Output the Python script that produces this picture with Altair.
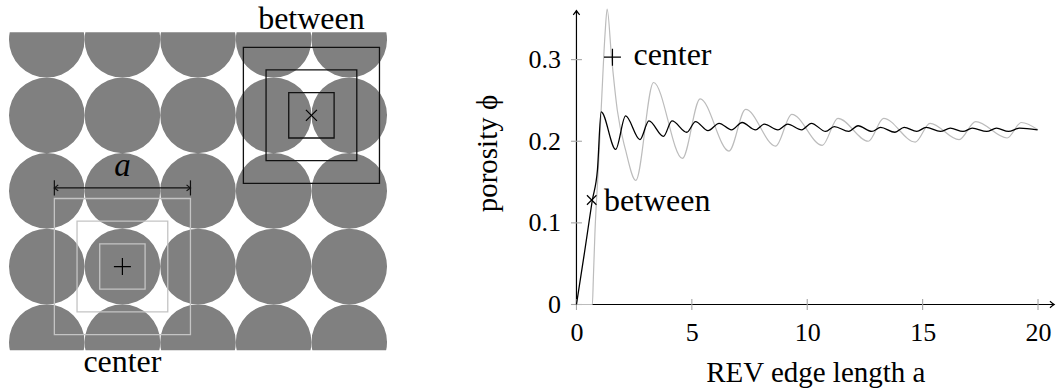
import altair as alt
import pandas as pd

# ---------------- data ----------------
circle_cols = [0, 1, 2, 3, 4]
circle_rows = [0, 1, 2, 3, 4]
rev_edges = [0.6, 1.2, 1.8]
center_xy = [1.0, 3.0]
between_xy = [3.5, 1.0]

gray_a = [0.0, 0.69, 0.73, 0.80, 0.95, 1.09, 1.24, 1.33, 1.52, 1.77, 2.13, 2.57,
          3.34, 4.59, 5.36, 6.61, 7.33, 8.63, 9.33, 10.65, 11.33, 12.65, 13.31,
          14.68, 15.32, 16.58, 17.30, 18.66, 19.28, 20.0]
gray_phi = [0.0, 0.0, 0.030, 0.087, 0.168, 0.250, 0.332, 0.362, 0.303, 0.238, 0.189, 0.152,
            0.272, 0.179, 0.252, 0.188, 0.239, 0.194, 0.233, 0.195, 0.228, 0.200, 0.228,
            0.199, 0.222, 0.202, 0.224, 0.204, 0.223, 0.214]

black_a = [0.0, 0.35, 0.69, 0.91, 1.07, 1.70, 2.13, 2.75, 3.14, 3.77, 4.14, 4.78, 5.16,
           5.70, 6.18, 6.72, 7.18, 7.76, 8.14, 8.73, 9.15, 9.76, 10.18, 10.8, 11.17,
           11.8, 12.2, 12.8, 13.18, 13.8, 14.2, 14.75, 15.15, 15.77, 16.2, 16.75,
           17.15, 17.78, 18.2, 18.72, 19.2, 19.98]
black_phi = [0.0, 0.064, 0.128, 0.165, 0.236, 0.190, 0.231, 0.202, 0.225, 0.206, 0.225,
             0.211, 0.224, 0.213, 0.222, 0.214, 0.223, 0.214, 0.221, 0.214, 0.221,
             0.214, 0.222, 0.212, 0.218, 0.212, 0.219, 0.212, 0.217, 0.211, 0.217,
             0.212, 0.217, 0.212, 0.216, 0.212, 0.216, 0.212, 0.216, 0.212, 0.216, 0.214]

x_ticks = [0, 5, 10, 15, 20]
y_ticks = [0, 0.1, 0.2, 0.3]

center_marker = [1.56, 0.303]
between_marker = [0.66, 0.128]

FONT = "Liberation Serif"
PLUS = "M-1,0L1,0M0,-1L0,1"
CROSS = "M-1,-1L1,1M-1,1L1,-1"
UP = "M-1,1.3Q-0.3,0.5,0,0Q0.3,0.5,1,1.3"
RIGHT = "M-1.3,-1Q-0.5,-0.3,0,0Q-0.5,0.3,-1.3,1"
LEFT = "M1.3,-1Q0.5,-0.3,0,0Q0.5,0.3,1.3,1"

# ---------------- left panel ----------------
CELL = 75.68
WL, HL = 5 * CELL, 318.3
xs = alt.Scale(domain=[-0.5, 4.5], nice=False, zero=False)
ys = alt.Scale(domain=[-0.1, -0.1 + HL / CELL], nice=False, zero=False, reverse=True)

circ_df = pd.DataFrame([{"cx": c, "cy": r} for r in circle_rows for c in circle_cols])


def squares(pt, kind):
    return pd.DataFrame([{"x0": pt[0] - e / 2, "x1": pt[0] + e / 2,
                          "y0": pt[1] - e / 2, "y1": pt[1] + e / 2, "kind": kind}
                         for e in rev_edges])


def LX(f):
    return alt.X(f, scale=xs, axis=None)


def LY(f):
    return alt.Y(f, scale=ys, axis=None)


circles = alt.Chart(circ_df).mark_circle(color="#808080", opacity=1, size=CELL ** 2, clip=True).encode(
    x=LX("cx:Q"), y=LY("cy:Q"))

sq_center = alt.Chart(squares(center_xy, "center")).mark_rect(
    fillOpacity=0, stroke="#c4c4c4", strokeWidth=1.3).encode(
    x=LX("x0:Q"), x2="x1:Q", y=LY("y0:Q"), y2="y1:Q")
sq_between = alt.Chart(squares(between_xy, "between")).mark_rect(
    fillOpacity=0, stroke="#111111", strokeWidth=1.3).encode(
    x=LX("x0:Q"), x2="x1:Q", y=LY("y0:Q"), y2="y1:Q")

mk_df = pd.DataFrame([
    {"x": center_xy[0], "y": center_xy[1], "s": PLUS, "size": 289},
    {"x": between_xy[0], "y": between_xy[1], "s": CROSS, "size": 121},
])
markers_l = alt.Chart(mk_df).mark_point(filled=False, color="black", opacity=1, strokeWidth=1.2).encode(
    x=LX("x:Q"), y=LY("y:Q"), shape=alt.Shape("s:N", scale=None, legend=None),
    size=alt.Size("size:Q", scale=None, legend=None))

outer = rev_edges[-1] / 2
dim_y = center_xy[1] - outer - 0.14
dim_df = pd.DataFrame([{"x0": center_xy[0] - outer, "x1": center_xy[0] + outer, "y": dim_y}])
dim_rule = alt.Chart(dim_df).mark_rule(color="#111111", strokeWidth=1.2).encode(
    x=LX("x0:Q"), x2="x1:Q", y=LY("y:Q"))
bar_df = pd.DataFrame([{"x": center_xy[0] + s * outer, "y0": dim_y - 0.1, "y1": dim_y + 0.1} for s in (-1, 1)])
dim_bars = alt.Chart(bar_df).mark_rule(color="#111111", strokeWidth=1.2).encode(
    x=LX("x:Q"), y=LY("y0:Q"), y2="y1:Q")
head_df = pd.DataFrame([
    {"x": center_xy[0] - outer, "y": dim_y, "s": LEFT},
    {"x": center_xy[0] + outer, "y": dim_y, "s": RIGHT},
])
dim_heads = alt.Chart(head_df).mark_point(filled=False, color="#111111", opacity=1, strokeWidth=1.2, size=36).encode(
    x=LX("x:Q"), y=LY("y:Q"), shape=alt.Shape("s:N", scale=None, legend=None))

lab_df = pd.DataFrame([
    {"x": between_xy[0], "y": -0.145, "t": "between"},
    {"x": center_xy[0], "y": 4.39, "t": "center"},
])
labels_l = alt.Chart(lab_df).mark_text(font=FONT, fontSize=32, color="black", align="center",
                                       baseline="alphabetic").encode(
    x=LX("x:Q"), y=LY("y:Q"), text="t:N")
a_df = pd.DataFrame([{"x": center_xy[0], "y": 1.806, "t": "a"}])
a_label = alt.Chart(a_df).mark_text(font=FONT, fontSize=33, fontStyle="italic", color="black",
                                    align="center", baseline="alphabetic").encode(
    x=LX("x:Q"), y=LY("y:Q"), text="t:N")

left = alt.layer(circles, sq_center, sq_between, markers_l, dim_rule, dim_bars, dim_heads,
                 labels_l, a_label).properties(width=WL, height=HL)

# ---------------- right panel ----------------
PX = 23.1
XMAX = 20.7
WR = XMAX * PX
HR = 272.6
YMAX = HR / 817.0
xr = alt.Scale(domain=[0, XMAX], nice=False, zero=False)
yr = alt.Scale(domain=[0, YMAX], nice=False, zero=False)

x_axis = alt.Axis(values=x_ticks, domain=False, ticks=False, grid=False,
                  labelFont=FONT, labelFontSize=26, labelColor="black", labelPadding=15,
                  labelFlush=False, labelOverlap=False,
                  title="REV edge length a", titleFont=FONT, titleFontSize=29,
                  titleFontWeight="normal", titleColor="black", titleBaseline="alphabetic",
                  titleY=77)
y_axis = alt.Axis(values=y_ticks, domain=False, ticks=False, grid=False,
                  labelFont=FONT, labelFontSize=26, labelColor="black", labelPadding=16,
                  labelFlush=False, labelOverlap=False,
                  labelExpr="datum.value == 0 ? '0' : format(datum.value, '.1f')",
                  title="porosity ϕ", titleFont=FONT, titleFontSize=29,
                  titleFontWeight="normal", titleColor="black", titleBaseline="alphabetic",
                  titleAngle=270, titleAlign="center", titleX=-80, titleY=121)


def RX(f):
    return alt.X(f, scale=xr, axis=x_axis)


def RY(f):
    return alt.Y(f, scale=yr, axis=y_axis)


ax_df = pd.DataFrame([
    {"a": 0, "a2": XMAX, "p": 0, "p2": 0},
    {"a": 0, "a2": 0, "p": 0, "p2": 0.36},
])
axes_rule = alt.Chart(ax_df).mark_rule(color="black", strokeWidth=1.2).encode(
    x=RX("a:Q"), x2="a2:Q", y=RY("p:Q"), y2="p2:Q")
arr_df = pd.DataFrame([
    {"a": 0, "p": 0.36, "s": UP},
    {"a": XMAX, "p": 0, "s": RIGHT},
])
axes_heads = alt.Chart(arr_df).mark_point(filled=False, color="black", opacity=1, strokeWidth=1.2, size=42).encode(
    x=RX("a:Q"), y=RY("p:Q"), shape=alt.Shape("s:N", scale=None, legend=None))

xt = alt.Chart(pd.DataFrame({"a": x_ticks})).mark_tick(
    orient="vertical", size=11, thickness=1.1, color="#a6a6a6", opacity=1).encode(
    x=RX("a:Q"), y=alt.value(HR))
yt = alt.Chart(pd.DataFrame({"p": y_ticks})).mark_tick(
    orient="horizontal", size=11, thickness=1.1, color="#a6a6a6", opacity=1).encode(
    y=RY("p:Q"), x=alt.value(0))

gray_line = alt.Chart(pd.DataFrame({"a": gray_a, "p": gray_phi})).mark_line(
    color="#bcbcbc", strokeWidth=1.2, interpolate="monotone").encode(
    x=RX("a:Q"), y=RY("p:Q"))
black_line = alt.Chart(pd.DataFrame({"a": black_a, "p": black_phi})).mark_line(
    color="black", strokeWidth=1.3, interpolate="monotone").encode(
    x=RX("a:Q"), y=RY("p:Q"))

mk_r = pd.DataFrame([
    {"a": center_marker[0], "p": center_marker[1], "s": PLUS, "size": 289},
    {"a": between_marker[0], "p": between_marker[1], "s": CROSS, "size": 90},
])
markers_r = alt.Chart(mk_r).mark_point(filled=False, color="black", opacity=1, strokeWidth=1.2).encode(
    x=RX("a:Q"), y=RY("p:Q"), shape=alt.Shape("s:N", scale=None, legend=None),
    size=alt.Size("size:Q", scale=None, legend=None))
lab_r = pd.DataFrame([
    {"a": 2.47, "p": 0.293, "t": "center"},
    {"a": 1.19, "p": 0.1146, "t": "between"},
])
labels_r = alt.Chart(lab_r).mark_text(font=FONT, fontSize=32, color="black", align="left",
                                      baseline="alphabetic").encode(
    x=RX("a:Q"), y=RY("p:Q"), text="t:N")

right = alt.layer(axes_rule, xt, yt, gray_line, black_line, axes_heads, markers_r,
                  labels_r).properties(width=WR, height=HR)

chart = alt.hconcat(left, right, spacing=189, bounds="flush").properties(
    padding={"left": 8, "top": 2, "right": 0, "bottom": 0}
).configure_view(stroke="transparent")

chart.save("out.html", embed_options={"renderer": "svg", "actions": False})
